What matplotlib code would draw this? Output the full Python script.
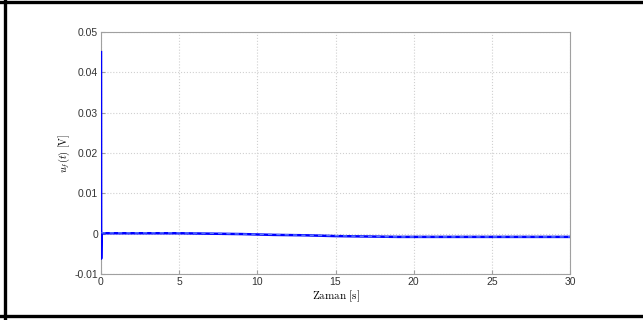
import matplotlib
matplotlib.use("Agg")
import matplotlib.pyplot as plt
from matplotlib.lines import Line2D

# time axis [s] and filter voltage u_f(t) [V]
t = [0, 0.01, 0.03, 0.08, 0.5, 1.5, 3, 5, 7, 9, 11, 13, 15, 17, 19, 21, 23, 25, 27, 30]
u_solid = [0.045, -0.0062, 0.0002, 0.0001, 0.0001, 0.0001, 0.0001, 0.0001, 0.0,
           -0.0001, -0.0003, -0.0004, -0.0006, -0.0007, -0.0008, -0.0008,
           -0.0008, -0.0008, -0.0008, -0.0008]
# dashed reference trace (starts after the initial spike)
t_ref = [0.03, 0.08, 0.5, 1.5, 3, 5, 7, 9, 11, 13, 15, 17, 19, 21, 23, 25, 27, 30]
u_ref = [0.0003, 0.0002, 0.0002, 0.0002, 0.0002, 0.0002, 0.0001,
         -0.0001, -0.0002, -0.0004, -0.0005, -0.0007, -0.0008, -0.0008,
         -0.0008, -0.0008, -0.0008, -0.0008]

xticks = [0, 5, 10, 15, 20, 25, 30]
yticks = [-0.01, 0, 0.01, 0.02, 0.03, 0.04, 0.05]
ytick_labels = ["-0.01", "0", "0.01", "0.02", "0.03", "0.04", "0.05"]

plt.rcParams["font.family"] = "Liberation Sans"
plt.rcParams["mathtext.fontset"] = "cm"

fig = plt.figure(figsize=(6.43, 3.2), dpi=100)
ax = fig.add_axes([101 / 643, 1 - 274 / 320, 469 / 643, 242 / 320])

ax.plot(t, u_solid, color="#0000ff", lw=1.8, zorder=3)
ax.plot(t_ref, u_ref, color="#5a78ff", lw=1.0, ls=(0, (3, 3)), zorder=4)

ax.set_xlim(0, 30)
ax.set_ylim(-0.01, 0.05)
ax.set_xticks(xticks)
ax.set_yticks(yticks)
ax.set_yticklabels(ytick_labels)
ax.grid(True, color="#d0d0d0", ls=":", lw=0.8)
ax.tick_params(direction="in", length=3, labelsize=7.5, colors="#333333",
               color="#a0a0a0", pad=2)
for s in ax.spines.values():
    s.set_color("#a0a0a0")
    s.set_linewidth(0.8)

ax.set_xlabel(r"$\mathrm{Zaman\ [s]}$", fontsize=8, labelpad=1)
ax.set_ylabel(r"$u_f(t)\ \mathrm{[V]}$", fontsize=7.5)
ax.yaxis.set_label_coords(-29 / 469, 0.5)

# outer black frame
fig.add_artist(Line2D([4.5 / 643, 4.5 / 643], [0, 1], color="black", lw=2.4,
                      transform=fig.transFigure))
fig.add_artist(Line2D([0, 1], [1 - 1.5 / 320, 1 - 1.5 / 320], color="black",
                      lw=2.4, transform=fig.transFigure))
fig.add_artist(Line2D([0, 1], [1 - 316 / 320, 1 - 316 / 320], color="black",
                      lw=2.4, transform=fig.transFigure))

fig.savefig("out.png", dpi=100)
